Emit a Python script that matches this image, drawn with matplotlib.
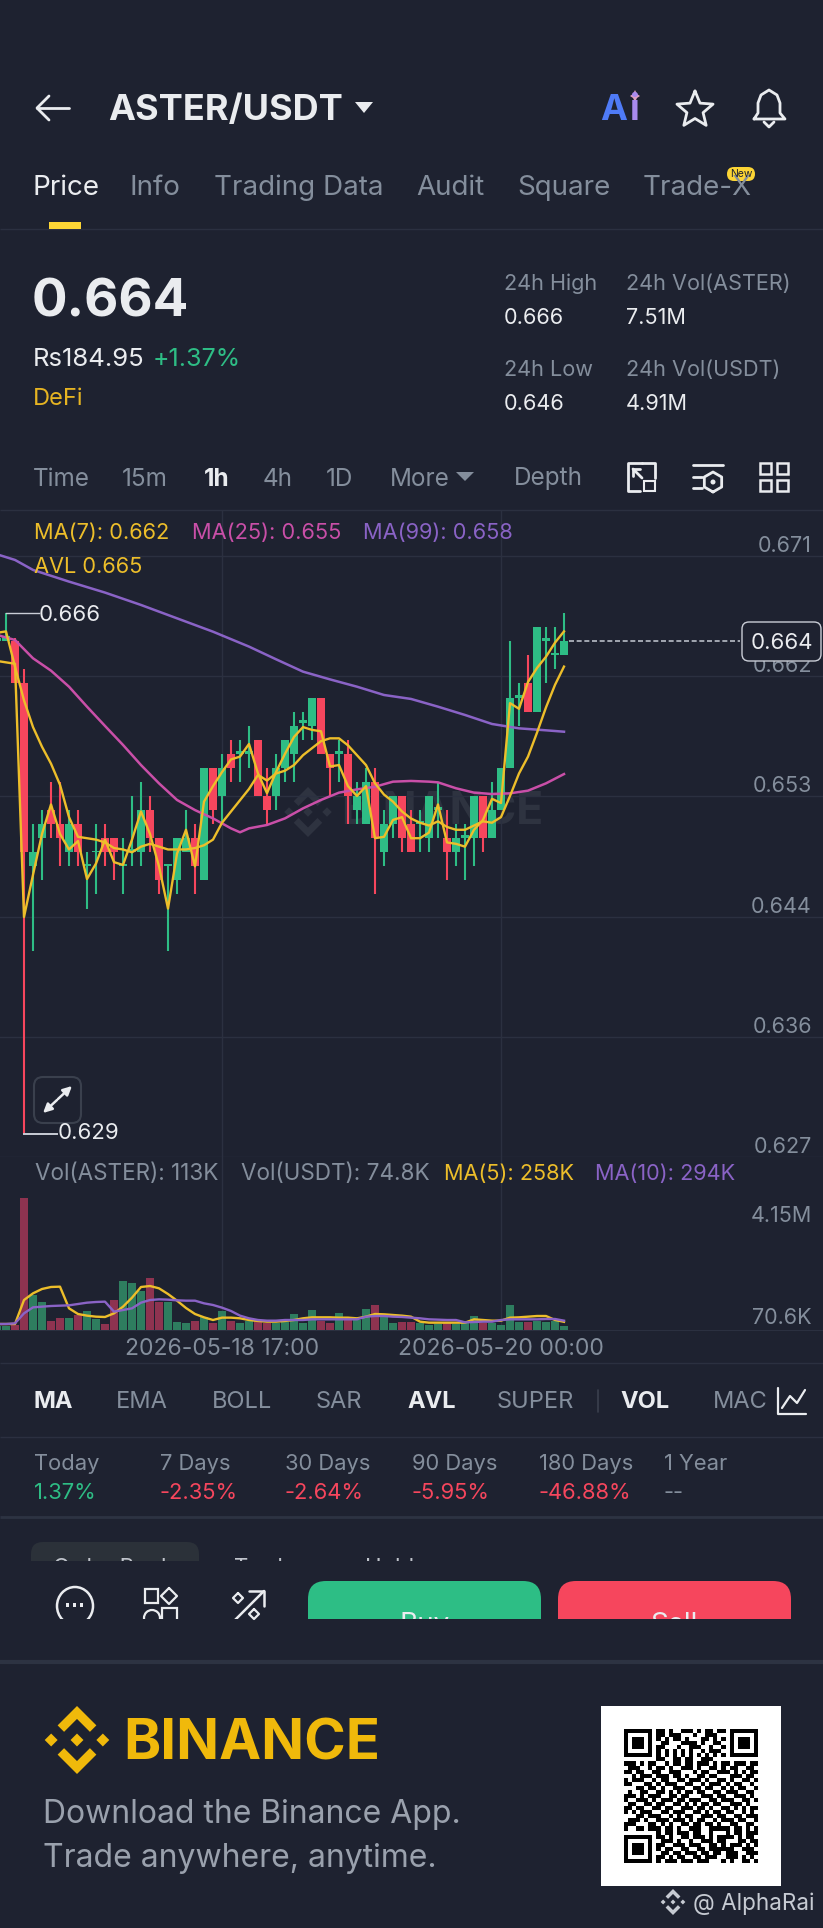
import numpy as np
import matplotlib
matplotlib.use("Agg")
import matplotlib.pyplot as plt
from matplotlib.patches import FancyBboxPatch, Polygon, Rectangle, Ellipse
from matplotlib.transforms import Bbox, ScaledTranslation

plt.rcParams["font.family"] = ["Inter", "DejaVu Sans"]

W, H = 823, 1928
BG = "#1E2230"
LINE = "#2B3040"
GREY = "#848E9C"
WHITE = "#EAECEF"
YELLOW = "#EDBE2A"
PINK = "#C94FA8"
PURPLE = "#8A63C6"
GREEN = "#2EBD85"
RED = "#F6465D"

# candles, 1h
opens = [.6640, .6640, .6640, .6610, .6480, .6500, .6520, .6510, .6490, .6510, .6480, .6490, .6500, .6500, .6480, .6490,
         .6490, .6520, .6500, .6480, .6470, .6490, .6500, .6470, .6550, .6530, .6560, .6560, .6560, .6570, .6530, .6530,
         .6550, .6560, .6582, .6580, .6600, .6560, .6560, .6560, .6520, .6510, .6540, .6490, .6510, .6530, .6510, .6510,
         .6500, .6520, .6500, .6490, .6500, .6500, .6530, .6500, .6520, .6550, .6600, .6610, .6590, .6640, .6630, .6630]
closes = [.6642, .6644, .6610, .6490, .6490, .6510, .6510, .6500, .6510, .6490, .6482, .6491, .6490, .6490, .6482, .6492,
          .6520, .6500, .6470, .6482, .6500, .6500, .6480, .6550, .6520, .6550, .6550, .6562, .6562, .6530, .6520, .6550,
          .6570, .6580, .6584, .6600, .6560, .6550, .6562, .6530, .6530, .6540, .6500, .6510, .6530, .6500, .6490, .6512,
          .6530, .6522, .6490, .6500, .6502, .6530, .6500, .6520, .6550, .6600, .6602, .6590, .6650, .6642, .6632, .6640]
highs = [.6645, .6660, .6642, .6620, .6510, .6520, .6540, .6540, .6520, .6520, .6490, .6510, .6510, .6500, .6500, .6530,
         .6540, .6530, .6500, .6482, .6500, .6520, .6510, .6550, .6550, .6560, .6570, .6570, .6580, .6570, .6550, .6560,
         .6570, .6590, .6590, .6600, .6600, .6560, .6570, .6570, .6540, .6550, .6550, .6520, .6530, .6530, .6520, .6520,
         .6530, .6540, .6520, .6510, .6510, .6530, .6530, .6540, .6550, .6640, .6610, .6630, .6650, .6650, .6650, .6660]
lows = [.6640, .6640, .6610, .6290, .6420, .6470, .6500, .6480, .6480, .6480, .6450, .6460, .6480, .6470, .6460, .6480,
        .6480, .6490, .6460, .6420, .6460, .6490, .6460, .6470, .6510, .6510, .6540, .6540, .6550, .6530, .6510, .6520,
        .6540, .6540, .6570, .6570, .6560, .6530, .6540, .6510, .6510, .6510, .6460, .6480, .6500, .6490, .6490, .6490,
        .6490, .6500, .6470, .6480, .6470, .6480, .6490, .6500, .6520, .6550, .6580, .6590, .6590, .6610, .6620, .6630]
ma7 = [.6646, .6647, .6622, .6598, .6579, .6565, .6553, .6538, .6515, .6501, .6500, .6499, .6497, .6493, .6492, .6490,
       .6494, .6496, .6494, .6492, .6492, .6492, .6493, .6495, .6499, .6511, .6519, .6527, .6535, .6545, .6541, .6546,
       .6548, .6552, .6559, .6564, .6569, .6571, .6571, .6566, .6559, .6552, .6539, .6531, .6526, .6519, .6514, .6511,
       .6509, .6512, .6508, .6506, .6506, .6509, .6512, .6511, .6515, .6530, .6546, .6558, .6575, .6593, .6609, .6622]
avl = [.6626, .6625, .6624, .6444, .6474, .6503, .6524, .6503, .6492, .6498, .6471, .6482, .6499, .6483, .6481, .6499,
       .6519, .6503, .6480, .6450, .6489, .6506, .6480, .6526, .6537, .6547, .6556, .6558, .6567, .6546, .6532, .6547,
       .6560, .6572, .6579, .6577, .6576, .6551, .6552, .6537, .6530, .6537, .6500, .6501, .6513, .6515, .6500, .6500,
       .6504, .6524, .6497, .6496, .6494, .6506, .6513, .6528, .6525, .6596, .6592, .6611, .6621, .6629, .6639, .6647]
ma25_idx = [0, 2, 4, 6, 8, 10, 12, 14, 16, 18, 20, 22, 24, 26, 27, 28, 30, 32, 34, 36, 38, 40, 42, 44, 46, 48, 49, 51, 53,
            55, 57, 59, 61, 63]
ma25 = [.66445, .66409, .66279, .66191, .66077, .65935, .65798, .65663, .65520, .65390, .65272, .65200, .65141, .65070,
        .65042, .65070, .65094, .65141, .65212, .65272, .65324, .65347, .65366, .65402, .65407, .65402, .65397, .65355,
        .65324, .65314, .65319, .65338, .65390, .65456]
ma99_idx = [0, 2, 4, 8, 12, 16, 20, 24, 28, 31, 34, 37, 40, 43, 46, 49, 52, 55, 58, 61, 63]
ma99 = [.67018, .66978, .66907, .66824, .66746, .66658, .66563, .66468, .66362, .66272, .66184, .66129, .66077, .66018,
        .65990, .65935, .65876, .65812, .65781, .65767, .65757]

# volume panel, thousands of ASTER
vol = [126, 126, 158, 4150, 1103, 893, 284, 389, 368, 473, 609, 347, 189, 945, 1533, 1470, 1229, 1628, 893, 893, 263, 231,
       294, 420, 231, 599, 284, 210, 294, 294, 231, 231, 263, 494, 231, 630, 284, 231, 525, 368, 315, 651, 788, 420, 231,
       263, 263, 210, 158, 189, 210, 189, 210, 441, 210, 210, 158, 788, 263, 263, 294, 263, 294, 113]
vol_ma5 = [189, 189, 189, 945, 1155, 1292, 1355, 1365, 683, 504, 452, 420, 410, 525, 735, 1019, 1355, 1386, 1313, 1134, 924,
           693, 504, 399, 315, 389, 389, 368, 315, 284, 263, 263, 284, 315, 368, 399, 399, 399, 389, 389, 368, 420, 504,
           494, 473, 452, 420, 263, 231, 231, 231, 231, 231, 336, 315, 294, 294, 389, 399, 420, 441, 441, 315, 258]
vol_ma10 = [189, 189, 210, 525, 714, 735, 756, 767, 777, 819, 861, 882, 893, 578, 630, 683, 861, 945, 966, 956, 935, 924,
            924, 840, 788, 704, 599, 452, 368, 315, 294, 294, 315, 315, 315, 336, 336, 336, 336, 336, 336, 420, 441, 441,
            420, 410, 389, 368, 336, 326, 315, 315, 242, 252, 263, 263, 315, 336, 336, 336, 336, 347, 347, 294]

price_ticks = [.67006, .66153, .65300, .64442, .63587, .62734]
price_labels = ["0.671", "0.662", "0.653", "0.644", "0.636", "0.627"]
date_ticks = [25, 56]
date_labels = ["2026-05-18 17:00", "2026-05-20 00:00"]
vol_ticks = [4150, 70.6]
vol_labels = ["4.15M", "70.6K"]
last_price = 0.664
high_price = 0.666
low_price = 0.629

periods = ["Today", "7 Days", "30 Days", "90 Days", "180 Days", "1 Year"]
period_changes = ["1.37%", "-2.35%", "-2.64%", "-5.95%", "-46.88%", "--"]
period_x = [34, 160, 285, 412, 539, 664]

tabs = ["Price", "Info", "Trading Data", "Audit", "Square", "Trade-X"]
tab_x = [33, 130, 214, 416, 517, 643]
ranges = ["Time", "15m", "1h", "4h", "1D", "More", "Depth"]
range_x = [33, 122, 204, 263, 326, 390, 514]
indicators = ["MA", "EMA", "BOLL", "SAR", "AVL", "SUPER", "VOL", "MAC"]
indicator_x = [34, 116, 212, 316, 407, 497, 620, 713]

qr_rows = [
    "111111101101001110101101101111111",
    "100000101101110001001110001000001",
    "101110101010110100011010101011101",
    "101110100110001111010011001011101",
    "101110101100010011100100101011101",
    "100000101010101010010111001000001",
    "111111101010101010101010101111111",
    "000000001100110110011100000000000",
    "111010110010110110111010110111011",
    "011100101101001110100110101100110",
    "110110011001110001011001110101011",
    "001011101110110100110110001110110",
    "101110010110011011101001101001101",
    "110001101011100110010111010110010",
    "000110110100111001101100101011001",
    "010011001101010110110011011100110",
    "111010111001101100011101100111010",
    "100111010111011011100110111001101",
    "011001101100110101011011001110100",
    "110110011011001110110100110101011",
    "101011100110111001101011011001010",
    "000110111001010110011101100110111",
    "011101001110111010110010111011001",
    "111000110101001101101101001100110",
    "100110111011010011100111110110101",
    "000000001011011101100100010110111",
    "111111101101001101110101111010110",
    "100000100111010010011101100011011",
    "101110101100111011100110101110101",
    "101110101011001100110111111001110",
    "101110100110110111011011011100111",
    "100000101101011001101110011101010",
    "111111101011101110111000101001101",
]


def fig_rect(top, bottom):
    return [0, 1 - bottom / H, 1, (bottom - top) / H]


def clip_to(artist, top, bottom, left=0, right=W):
    artist.set_clip_on(True)
    artist.set_clip_box(Bbox.from_extents(left, H - bottom, right, H - top))
    return artist


def binance_logo(ax, cx, cy, r, color, zorder=1):
    # diamond logo: centre, two side diamonds, top and bottom chevrons
    def put(pts):
        ax.add_patch(Polygon([(cx + x * r, cy - y * r) for x, y in pts], closed=True, fc=color, ec="none", zorder=zorder))
    d = 0.19
    for mx in (-0.76, 0, 0.76):
        put([(mx, d), (mx + d, 0), (mx, -d), (mx - d, 0)])
    for s in (1, -1):
        put([(0, s), (0.57, 0.43 * s), (0.38, 0.24 * s), (0, 0.62 * s), (-0.38, 0.24 * s), (-0.57, 0.43 * s)])


fig = plt.figure(figsize=(W / 100, H / 100), dpi=100, facecolor=BG)

# background layer: dividers and watermark sit under the candles
bg = fig.add_axes([0, 0, 1, 1], zorder=0)
bg.set_xlim(0, W)
bg.set_ylim(H, 0)
bg.axis("off")
binance_logo(bg, 308, 812, 25, "#2E3340")
bg.text(442, 812, "BINANCE", color="#2E3340", fontsize=32, fontweight="bold", ha="center", va="center")
for y, lw in [(229, 1), (510, 1), (1363, 1), (1437, 1), (1517, 2), (1662, 3)]:
    bg.plot([0, W], [y, y], color="#2D3342" if lw > 1 else LINE, lw=lw, solid_capstyle="butt")

# price panel
ax = fig.add_axes(fig_rect(510, 1157), zorder=2)
ax.patch.set_alpha(0)
idx = np.arange(len(opens))
for i in idx:
    up = closes[i] >= opens[i]
    c = GREEN if up else RED
    ax.vlines(i, lows[i], highs[i], color=c, lw=1.5, zorder=3)
    ax.bar(i, abs(closes[i] - opens[i]), bottom=min(opens[i], closes[i]), width=0.78, color=c, zorder=3)
ax.plot(ma99_idx, ma99, color=PURPLE, lw=1.8, zorder=4)
ax.plot(ma25_idx, ma25, color=PINK, lw=1.8, zorder=4)
ax.plot(idx, avl, color=YELLOW, lw=1.7, zorder=5)
ax.plot(idx, ma7, color=YELLOW, lw=1.7, zorder=5)
ax.set_xlim(1 / 3, 826 / 9)
ax.set_ylim(.62734, .67333)
ax.set_xticks(date_ticks)
ax.set_xticklabels([])
ax.set_yticks(price_ticks)
ax.set_yticklabels(price_labels, color=GREY, fontsize=15.5)
ax.yaxis.tick_right()
ax.tick_params(length=0, pad=-8)
ax.grid(True, color=LINE, lw=1)
ax.set_axisbelow(True)
for s in ax.spines.values():
    s.set_visible(False)
for lab in ax.get_yticklabels():
    lab.set_ha("right")
    lab.set_transform(lab.get_transform() + ScaledTranslation(0, 12 / 100, fig.dpi_scale_trans))

ax.plot([idx[-1] + 0.55, 82.6], [last_price, last_price], color="#B8BDC7", lw=1.2, ls=(0, (3, 1.6)), zorder=4)
ax.plot([1, 1, 4.65], [highs[1], high_price, high_price], color="#C9CDD6", lw=1, zorder=6)
ax.plot([3, 3, 6.65], [low_price, low_price, low_price], color="#C9CDD6", lw=1.4, zorder=6)

# volume panel
vax = fig.add_axes(fig_rect(1157, 1330), zorder=2)
vax.patch.set_alpha(0)
vol_colors = ["#2E7D5F" if closes[i] >= opens[i] else "#8E3350" for i in idx]
vax.bar(idx, vol, width=0.78, color=vol_colors, zorder=3)
vax.plot(idx, vol_ma5, color=YELLOW, lw=1.7, zorder=4)
vax.plot(idx, vol_ma10, color=PURPLE, lw=1.7, zorder=5)
vax.set_xlim(1 / 3, 826 / 9)
vax.set_ylim(0, 5450)
vax.set_xticks(date_ticks)
vax.set_xticklabels(date_labels, color=GREY, fontsize=16.5)
vax.set_yticks(vol_ticks)
vax.set_yticklabels(vol_labels, color=GREY, fontsize=15.5)
vax.yaxis.tick_right()
vax.tick_params(axis="y", length=0, pad=-8)
vax.tick_params(axis="x", length=0, pad=6)
vax.grid(True, axis="x", color=LINE, lw=1)
vax.set_axisbelow(True)
for s in vax.spines.values():
    s.set_visible(False)
vax.spines["bottom"].set_visible(True)
vax.spines["bottom"].set_color(LINE)
for lab, dy in zip(vax.get_yticklabels(), [-16, 12]):
    lab.set_ha("right")
    lab.set_transform(lab.get_transform() + ScaledTranslation(0, dy / 100, fig.dpi_scale_trans))

# app chrome, pixel coordinates
ui = fig.add_axes([0, 0, 1, 1], zorder=5)
ui.set_xlim(0, W)
ui.set_ylim(H, 0)
ui.axis("off")


def txt(x, y, s, color=WHITE, size=15, weight="normal", ha="left", **kw):
    return ui.text(x, y + 2, s, color=color, fontsize=size, fontweight=weight, ha=ha, va="center", **kw)


def stroke(xs, ys, color=WHITE, lw=1.8, **kw):
    return ui.plot(xs, ys, color=color, lw=lw, solid_capstyle="round", solid_joinstyle="round", **kw)[0]


# header
stroke([37, 69], [108, 108], lw=2)
stroke([49, 37, 49], [96, 108, 120], lw=2)
txt(108, 108, "ASTER/USDT", size=26, weight="bold")
ui.add_patch(Polygon([(355, 102), (373, 102), (364, 113)], fc=WHITE, ec="none"))
txt(600, 109, "A", color="#4F7BF7", size=26, weight="bold")
txt(630, 109, "i", color="#A98AEE", size=26, weight="bold")
ui.add_patch(Polygon([(635, 90), (637, 94), (640, 96), (637, 98), (635, 102), (633, 98), (630, 96), (633, 94)], fc="#E0A0C0", ec="none"))
ang = np.pi / 2 + np.arange(11) * np.pi / 5
rad = np.where(np.arange(11) % 2 == 0, 19, 8.5)
stroke(695 + rad * np.cos(ang), 110 - rad * np.sin(ang), lw=2)
stroke([754, 758, 758, 761, 769, 777, 780, 780, 785, 754], [119, 113, 103, 95, 90, 95, 103, 113, 119, 119], lw=2)
stroke([764, 769, 774], [122, 127, 122], lw=2)

# tabs
for i, (name, x) in enumerate(zip(tabs, tab_x)):
    txt(x, 186, name, color=WHITE if i == 0 else GREY, size=20)
ui.add_patch(Rectangle((49, 222), 32, 7, fc="#FCD535", ec="none"))
ui.add_patch(FancyBboxPatch((727, 167), 28, 14, boxstyle="round,pad=0,rounding_size=7", fc="#FCD535", ec="none", mutation_aspect=1))
txt(741, 172, "New", color="#1E2230", size=7.5, ha="center")

# ticker
txt(32, 301, "0.664", size=38, weight="bold")
txt(33, 357, "Rs184.95", size=18.5)
txt(153, 357, "+1.37%", color=GREEN, size=18)
txt(33, 397, "DeFi", color="#E6B422", size=17)
for x, y, label, val in [(504, 282, "24h High", "0.666"), (626, 282, "24h Vol(ASTER)", "7.51M"),
                         (504, 368, "24h Low", "0.646"), (626, 368, "24h Vol(USDT)", "4.91M")]:
    txt(x, y, label, color=GREY, size=15.6)
    txt(x, y + 34, val, size=15.6)

# range bar
for name, x in zip(ranges, range_x):
    txt(x, 477, name, color=WHITE if name == "1h" else GREY, size=17.5, weight="bold" if name == "1h" else "normal")
ui.add_patch(Polygon([(456, 472), (474, 472), (465, 481)], fc=GREY, ec="none"))
stroke([642, 628, 628, 640], [463, 463, 491, 491], lw=2)
stroke([642, 655, 655], [463, 463, 478], lw=2)
ui.add_patch(Rectangle((644, 481), 11, 10, fc="none", ec=WHITE, lw=1.5))
stroke([633, 642], [469, 478], lw=2)
stroke([633, 633], [469, 476], lw=2)
stroke([633, 640], [469, 469], lw=2)
stroke([693, 723], [465, 465], lw=2)
stroke([693, 702], [477, 477], lw=2)
stroke([693, 702], [488, 488], lw=2)
hang = np.pi / 2 + np.arange(7) * np.pi / 3
stroke(713 + 10 * np.cos(hang), 482 + 10 * np.sin(hang), lw=2)
ui.add_patch(Ellipse((713, 482), 5, 5, fc=WHITE, ec="none"))
for x in (760, 777):
    for y in (463, 480):
        ui.add_patch(Rectangle((x, y), 11, 11, fc="none", ec=WHITE, lw=1.8))

# indicator readouts
txt(34, 531, "MA(7): 0.662", color=YELLOW, size=15.7)
txt(192, 531, "MA(25): 0.655", color=PINK, size=15.7)
txt(363, 531, "MA(99): 0.658", color=PURPLE, size=15.7)
txt(34, 565, "AVL 0.665", color=YELLOW, size=15.7)
txt(39, 613, "0.666", color=WHITE, size=16)
txt(58, 1131, "0.629", color=WHITE, size=16)
ui.add_patch(FancyBboxPatch((742, 622), 79, 39, boxstyle="round,pad=0,rounding_size=7", fc=BG, ec="#C9CDD6", lw=1))
txt(781.5, 641, "0.664", ha="center", size=16)
ui.add_patch(FancyBboxPatch((34, 1077), 47, 46, boxstyle="round,pad=0,rounding_size=9", fc=BG, ec="#3A404D", lw=1.5))
ui.annotate("", xy=(72, 1086), xytext=(58, 1099), arrowprops=dict(arrowstyle="-|>", color=WHITE, lw=1.8, mutation_scale=13, shrinkA=0, shrinkB=0))
ui.annotate("", xy=(43, 1113), xytext=(57, 1100), arrowprops=dict(arrowstyle="-|>", color=WHITE, lw=1.8, mutation_scale=13, shrinkA=0, shrinkB=0))
txt(35, 1172, "Vol(ASTER): 113K", color=GREY, size=16.2)
txt(241, 1172, "Vol(USDT): 74.8K", color=GREY, size=16.2)
txt(444, 1172, "MA(5): 258K", color=YELLOW, size=15.6)
txt(595, 1172, "MA(10): 294K", color=PURPLE, size=15.6)

# indicator selector
for name, x in zip(indicators, indicator_x):
    on = name in ("MA", "AVL", "VOL")
    t = txt(x, 1400, name, color=WHITE if on else GREY, size=17, weight="bold" if on else "normal")
    if name == "MAC":
        clip_to(t, 1380, 1420, right=770)
stroke([598, 598], [1390, 1412], color="#3A404D", lw=1.2)
stroke([778, 778, 806], [1388, 1414, 1414], lw=1.6)
stroke([782, 790, 797, 805], [1408, 1396, 1403, 1390], lw=1.6)

# period returns
for name, chg, x in zip(periods, period_changes, period_x):
    txt(x, 1462, name, color=GREY, size=15.8)
    col = GREEN if chg == "1.37%" else (GREY if chg == "--" else RED)
    txt(x, 1491, chg, color=col, size=15.8)

# cut-off section under the returns
tab = FancyBboxPatch((31, 1542), 168, 40, boxstyle="round,pad=0,rounding_size=12", fc="#2B3139", ec="none")
ui.add_patch(tab)
clip_to(tab, 1530, 1561)
for x, name in [(53, "Order Book"), (234, "Trades"), (365, "Holders")]:
    clip_to(txt(x, 1566, name, color="#C0C4CC", size=16), 1530, 1561)

# action row, cut off by the share card
for x0, x1, col, name in [(308, 541, "#2DBE85", "Buy"), (558, 791, RED, "Sell")]:
    b = FancyBboxPatch((x0, 1581), x1 - x0, 70, boxstyle="round,pad=0,rounding_size=18", fc=col, ec="none")
    ui.add_patch(b)
    clip_to(b, 1575, 1619)
    clip_to(txt((x0 + x1) / 2, 1623, name, size=20, ha="center"), 1575, 1619)
chat = Ellipse((75, 1606), 36, 38, fc="none", ec=WHITE, lw=1.8)
ui.add_patch(chat)
clip_to(chat, 1580, 1619)
for x in (68, 75, 82):
    ui.add_patch(Rectangle((x - 1.5, 1603), 3, 4, fc=WHITE, ec="none"))
ui.add_patch(Rectangle((145, 1589), 13, 14, fc="none", ec=WHITE, lw=1.6))
stroke([169, 177, 169, 161, 169], [1588, 1596, 1604, 1596, 1588], lw=1.6)
clip_to(ui.add_patch(Ellipse((152, 1618), 16, 16, fc="none", ec=WHITE, lw=1.6)), 1580, 1619)
clip_to(ui.add_patch(Rectangle((162, 1608), 15, 20, fc="none", ec=WHITE, lw=1.6)), 1580, 1619)
stroke([238, 243, 238, 233, 238], [1593, 1598, 1603, 1598, 1593], lw=1.6)
stroke([254, 259, 254, 249, 254], [1609, 1614, 1619, 1614, 1609], lw=1.6)
clip_to(stroke([234, 264], [1621, 1591], lw=1.8), 1580, 1619)
stroke([249, 264, 264], [1591, 1591, 1606], lw=1.8)

# share card
binance_logo(ui, 77, 1740, 34, "#F0B90B")
txt(123, 1742, "BINANCE", color="#F0B90B", size=40.5, weight="bold")
txt(43, 1812, "Download the Binance App.", color="#9AA1AD", size=23)
txt(43, 1856, "Trade anywhere, anytime.", color="#9AA1AD", size=23)
ui.add_patch(Rectangle((601, 1706), 180, 180, fc="white", ec="none"))
qr = np.array([[int(c) for c in r.ljust(33, "0")[:33]] for r in qr_rows])
ui.imshow(1 - qr, cmap="gray", vmin=0, vmax=1, extent=(624, 758, 1863, 1729), interpolation="nearest", aspect="auto", zorder=3)
ui.set_xlim(0, W)
ui.set_ylim(H, 0)
binance_logo(ui, 673, 1902, 13, "#C6CAD2")
txt(693, 1902, "@ AlphaRai", color="#C6CAD2", size=16.2)

fig.savefig("out.png", dpi=100, facecolor=BG)
